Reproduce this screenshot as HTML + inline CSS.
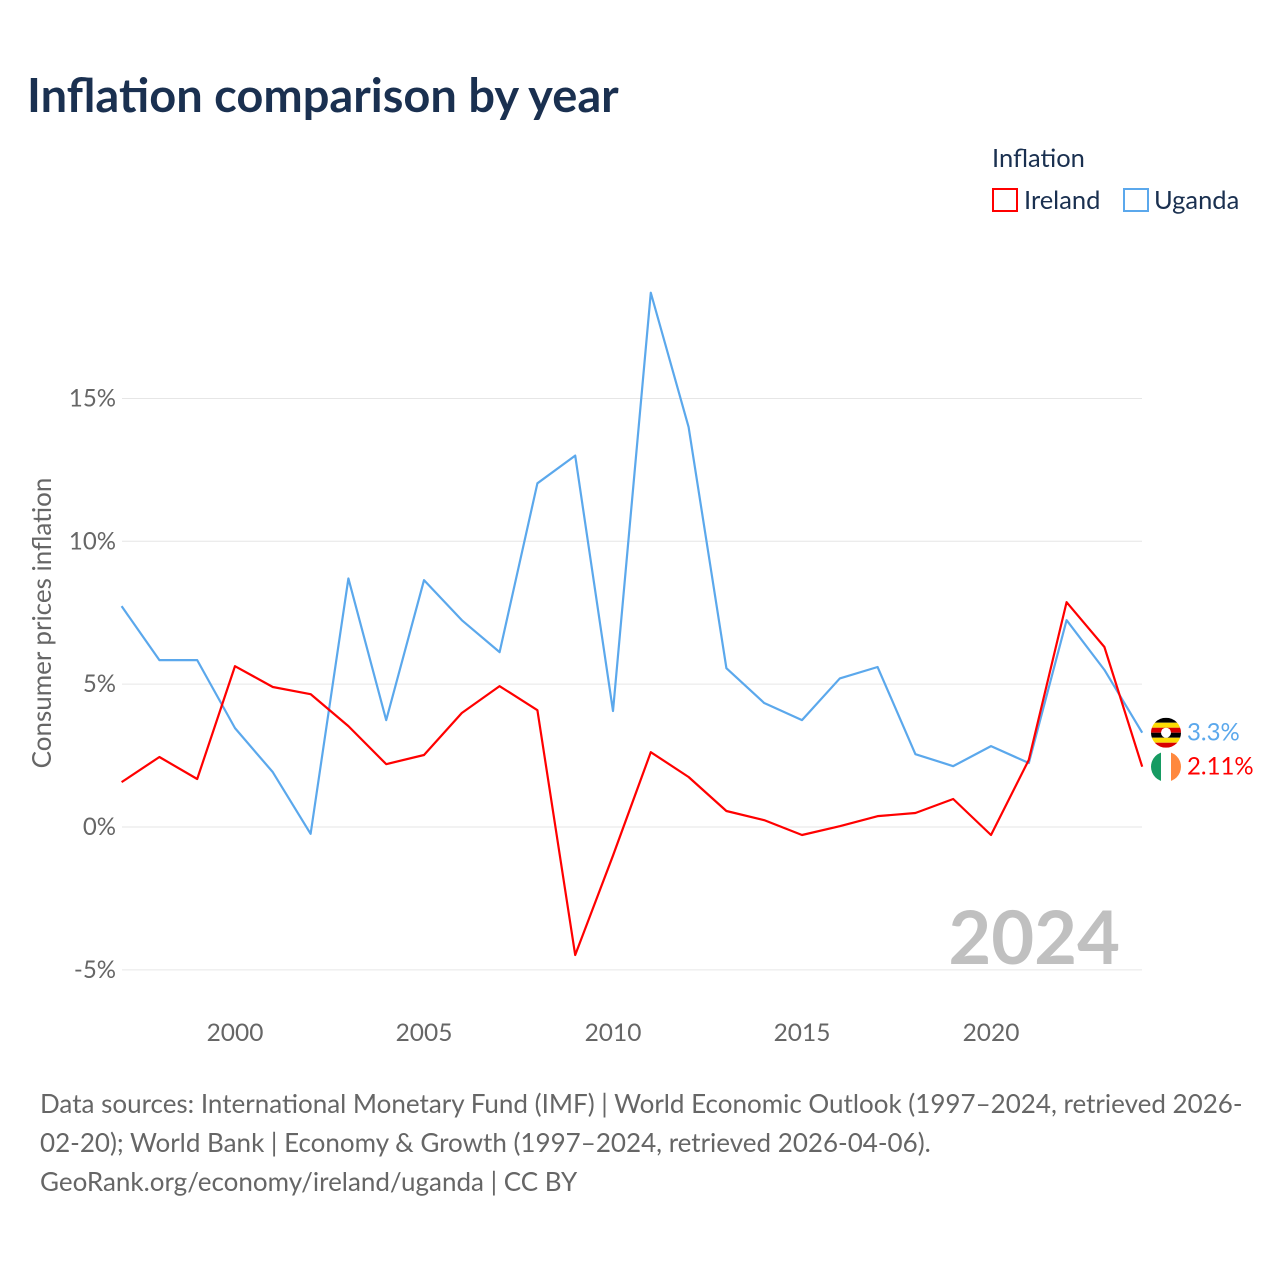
<!DOCTYPE html>
<html><head><meta charset="utf-8"><style>
body{margin:0;background:#fff;font-family:"Liberation Sans",sans-serif}
#wrap{position:relative;width:1280px;height:1280px;overflow:hidden}
</style></head><body>
<div id="wrap">
<svg id="chart" width="1280" height="1280" font-family="Lato, 'Liberation Sans', sans-serif">
<text x="27" y="112" font-size="47" font-weight="bold" fill="#1a3050">Inflation comparison by year</text>
<text x="992" y="167" font-size="25.5" fill="#1a3050">Inflation</text>
<g><rect x="993" y="189" width="24" height="22" fill="none" stroke="#f00" stroke-width="2"/><text x="1024" y="209" font-size="25.5" fill="#1a3050">Ireland</text></g>
<g><rect x="1124" y="189" width="24" height="22" fill="none" stroke="#5ba8ec" stroke-width="2"/><text x="1154" y="209" font-size="25.5" fill="#1a3050">Uganda</text></g>
<text transform="translate(51,623) rotate(-90)" text-anchor="middle" font-size="26" fill="#666">Consumer prices inflation</text>
<g id="grid"></g><g id="series"></g>
<text x="1120" y="964" text-anchor="end" font-size="74" font-weight="bold" fill="#c0c0c0">2024</text>
<text x="40" y="1113" font-size="26" fill="#666">Data sources: International Monetary Fund (IMF) | World Economic Outlook (1997–2024, retrieved 2026-</text>
<text x="40" y="1152" font-size="26" fill="#666">02-20); World Bank | Economy &amp; Growth (1997–2024, retrieved 2026-04-06).</text>
<text x="40" y="1191" font-size="26" fill="#666">GeoRank.org/economy/ireland/uganda | CC BY</text>
</svg></div>
<script>
const years=[1997,1998,1999,2000,2001,2002,2003,2004,2005,2006,2007,2008,2009,2010,2011,2012,2013,2014,2015,2016,2017,2018,2019,2020,2021,2022,2023,2024];
const uganda=[7.73,5.84,5.84,3.46,1.92,-0.24,8.7,3.74,8.64,7.24,6.12,12.03,13.0,4.06,18.7,14.0,5.56,4.34,3.74,5.2,5.6,2.55,2.13,2.83,2.24,7.24,5.5,3.3];
const ireland=[1.57,2.45,1.68,5.63,4.9,4.65,3.53,2.2,2.52,3.99,4.93,4.09,-4.48,-1.0,2.62,1.75,0.56,0.24,-0.28,0.03,0.38,0.49,0.98,-0.28,2.35,7.87,6.3,2.11];
const yTicks=[-5,0,5,10,15];
const xTicks=[2000,2005,2010,2015,2020];
const NS="http://www.w3.org/2000/svg";
const X=y=>235+(y-2000)*37.8;
const Y=v=>827-v*28.57;
function mk(t,a,p){const e=document.createElementNS(NS,t);for(const k in a)e.setAttribute(k,a[k]);p.appendChild(e);return e;}
const g=document.getElementById('grid'),s=document.getElementById('series');
yTicks.forEach(v=>{
 const l=mk('line',{x1:122,x2:1142,y1:Y(v),y2:Y(v),stroke:'#e6e6e6','stroke-width':1},g);
 
 
 const t=mk('text',{x:116,y:Y(v)+8,'text-anchor':'end','font-size':24,fill:'#666'},g);
 t.textContent=(v<0?'-'+(-v):v)+'%';
 
 
});
xTicks.forEach(y=>{
 const t=mk('text',{x:X(y),y:1041,'text-anchor':'middle','font-size':24.5,fill:'#666'},g);
 t.textContent=y;
 
 
});
function line(vals,color,name){
 const p=mk('polyline',{points:vals.map((v,i)=>X(years[i])+','+Y(v)).join(' '),fill:'none',stroke:color,'stroke-width':2.2,'stroke-linejoin':'round'},s);
 
 
}
line(uganda,'#5ba8ec','uganda');
line(ireland,'#f00','ireland');
const lu=uganda[uganda.length-1], li=ireland[ireland.length-1];
let yu=Y(lu), yi=Y(li); if(yi-yu<34){yu=(yu+yi)/2-17;yi=yu+34;}
const fu=mk('g',{},s);


const cu=document.createElementNS(NS,'clipPath');cu.id='cu';s.appendChild(cu);mk('circle',{cx:1166,cy:yu,r:15},cu);
const gu=mk('g',{'clip-path':'url(#cu)'},fu);
['#000','#fcdc04','#d90000','#000','#fcdc04','#d90000'].forEach((c,i)=>mk('rect',{x:1150,y:yu-15+i*5,width:32,height:5,fill:c},gu));
mk('circle',{cx:1166,cy:yu,r:5,fill:'#fff'},gu);
const fi=mk('g',{},s);


const ci=document.createElementNS(NS,'clipPath');ci.id='ci';s.appendChild(ci);mk('circle',{cx:1166,cy:yi,r:15},ci);
const gi=mk('g',{'clip-path':'url(#ci)'},fi);
['#169b62','#fff','#ff883e'].forEach((c,i)=>mk('rect',{x:1151+i*10,y:yi-15,width:10,height:30,fill:c},gi));
const tu=mk('text',{x:1187,y:yu+8,'font-size':24,fill:'#5ba8ec'},s);tu.textContent=lu+'%';


const ti=mk('text',{x:1187,y:yi+8,'font-size':24,fill:'#f00'},s);ti.textContent=li+'%';


</script>
</body></html>
